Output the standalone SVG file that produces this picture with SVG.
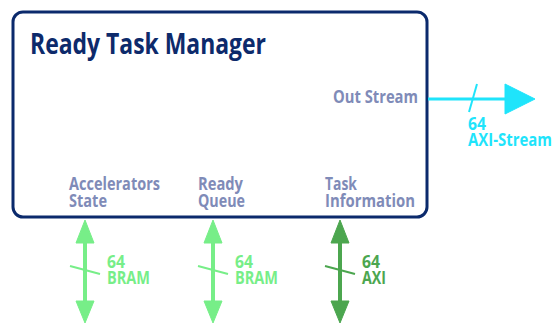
<svg xmlns="http://www.w3.org/2000/svg" width="554" height="323" viewBox="0 0 554 323">
<style>
text{font-family:"Open Sans","Liberation Sans",sans-serif;font-weight:bold}
.port{fill:#7f8bb8;font-size:17px}
.lg{stroke:#77ee88;fill:#77ee88}
.dg{stroke:#4ca64f;fill:#4ca64f}
.cy{stroke:#1fe4fb;fill:#1fe4fb}
.lgt{fill:#77ee88;font-size:17px}
.dgt{fill:#4ca64f;font-size:17px}
.cyt{fill:#1fe4fb;font-size:17px}
</style>
<g id="ready-task-manager">
<rect x="13" y="12" width="414" height="205" rx="10" fill="#fff" stroke="#0b2a6c" stroke-width="3"/>
<text x="30" y="54" font-size="28" fill="#0d2a6b" textLength="236" lengthAdjust="spacingAndGlyphs">Ready Task Manager</text>
<text class="port" x="333" y="103" textLength="85" lengthAdjust="spacingAndGlyphs">Out Stream</text>
<text class="port" x="69" y="190" textLength="91" lengthAdjust="spacingAndGlyphs">Accelerators</text>
<text class="port" x="69" y="207" textLength="38" lengthAdjust="spacingAndGlyphs">State</text>
<text class="port" x="198" y="190" textLength="45" lengthAdjust="spacingAndGlyphs">Ready</text>
<text class="port" x="198" y="207" textLength="47" lengthAdjust="spacingAndGlyphs">Queue</text>
<text class="port" x="325" y="190" textLength="32" lengthAdjust="spacingAndGlyphs">Task</text>
<text class="port" x="325" y="207" textLength="90" lengthAdjust="spacingAndGlyphs">Information</text>
</g>
<g id="connectors">
<g id="out-stream">
<line class="cy" x1="428" y1="99" x2="508" y2="99" stroke-width="3"/>
<polygon class="cy" points="505,84 535,99 505,114" stroke="none"/>
<line class="cy" x1="477" y1="84" x2="469" y2="112" stroke-width="2"/>
<text class="cyt" x="468" y="130" textLength="18" lengthAdjust="spacingAndGlyphs">64</text>
<text class="cyt" x="468" y="146" textLength="84" lengthAdjust="spacingAndGlyphs">AXI-Stream</text>
</g>
<g id="acc-state">
<line class="lg" x1="85" y1="238" x2="85" y2="306" stroke-width="4"/>
<polygon class="lg" points="85,220 94,243 76,243" stroke="none"/>
<polygon class="lg" points="85,323 94,301 76,301" stroke="none"/>
<line class="lg" x1="70" y1="266" x2="100" y2="274" stroke-width="2"/>
<text class="lgt" x="107" y="268" textLength="18" lengthAdjust="spacingAndGlyphs">64</text>
<text class="lgt" x="107" y="284" textLength="43" lengthAdjust="spacingAndGlyphs">BRAM</text>
</g>
<g id="ready-queue">
<line class="lg" x1="213" y1="238" x2="213" y2="306" stroke-width="4"/>
<polygon class="lg" points="213,220 222,243 204,243" stroke="none"/>
<polygon class="lg" points="213,323 222,301 204,301" stroke="none"/>
<line class="lg" x1="198" y1="266" x2="228" y2="274" stroke-width="2"/>
<text class="lgt" x="235" y="268" textLength="18" lengthAdjust="spacingAndGlyphs">64</text>
<text class="lgt" x="235" y="284" textLength="43" lengthAdjust="spacingAndGlyphs">BRAM</text>
</g>
<g id="task-info">
<line class="dg" x1="340" y1="238" x2="340" y2="306" stroke-width="4"/>
<polygon class="dg" points="340,220 349,243 331,243" stroke="none"/>
<polygon class="dg" points="340,323 349,301 331,301" stroke="none"/>
<line class="dg" x1="325" y1="266" x2="355" y2="274" stroke-width="2"/>
<text class="dgt" x="362" y="268" textLength="18" lengthAdjust="spacingAndGlyphs">64</text>
<text class="dgt" x="362" y="284" textLength="24" lengthAdjust="spacingAndGlyphs">AXI</text>
</g>
</g>
</svg>
